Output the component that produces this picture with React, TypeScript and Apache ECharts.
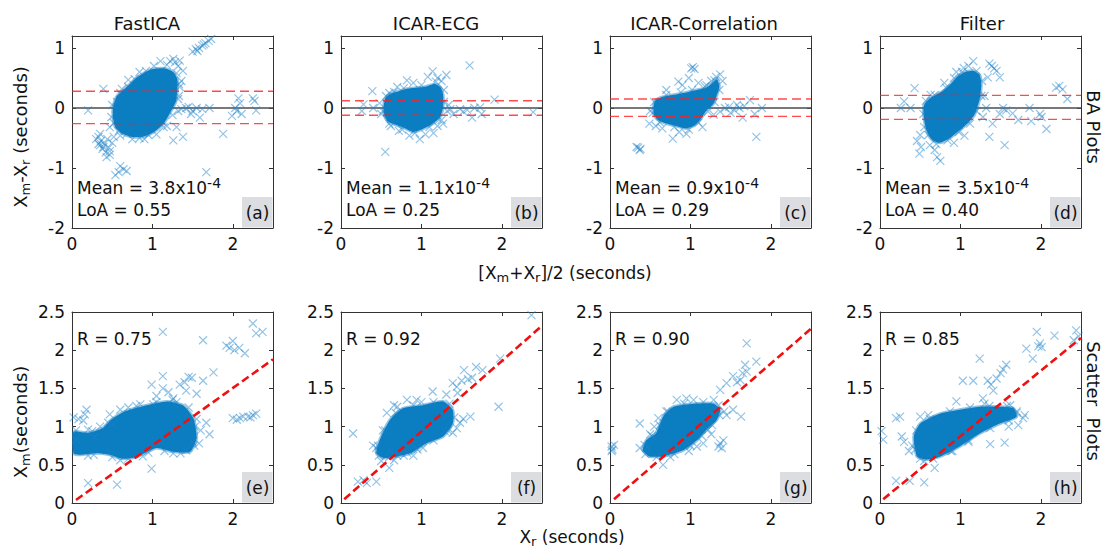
import React, { useEffect, useRef } from 'react';
import * as echarts from 'echarts';

const FONT = "'DejaVu Sans', 'Liberation Sans', Arial, sans-serif";

// ---------- data ----------
const methodNames = ['FastICA', 'ICAR-ECG', 'ICAR-Correlation', 'Filter'];
const baPanelLabels = ['(a)', '(b)', '(c)', '(d)'];
const scPanelLabels = ['(e)', '(f)', '(g)', '(h)'];
const baMeanMantissa = ['3.8', '1.1', '0.9', '3.5'];
const baMeanExponent = ['-4', '-4', '-4', '-4'];
const baLoALabels = ['0.55', '0.25', '0.29', '0.40'];
const baMeanValues = [0.00038, 0.00011, 0.00009, 0.00035];
const baUpperLoA = [0.28, 0.12, 0.15, 0.21];
const baLowerLoA = [-0.26, -0.12, -0.14, -0.19];
const scRLabels = ['0.75', '0.92', '0.90', '0.85'];
const scFitStart = [[0.05, 0.04], [0.04, 0.05], [0.05, 0.05], [0.04, 0.05]];
const scFitEnd = [[2.5, 1.88], [2.5, 2.32], [2.5, 2.28], [2.5, 2.16]];

const xAxisMin = 0, xAxisMax = 2.5, xAxisStep = 1;
const baYMin = -2, baYMax = 1.2, baYStep = 1;
const scYMin = 0, scYMax = 2.5, scYStep = 0.5;

// dense cores (outline of the saturated cloud)
const baCoreA = [[0.51,0.0],[0.55,0.18],[0.64,0.30],[0.72,0.40],[0.80,0.50],[0.89,0.58],[0.98,0.64],[1.06,0.66],[1.16,0.66],[1.26,0.60],[1.31,0.48],[1.31,0.30],[1.29,0.10],[1.22,-0.08],[1.14,-0.26],[1.02,-0.40],[0.88,-0.48],[0.74,-0.48],[0.62,-0.42],[0.54,-0.32],[0.51,-0.16]];
const baCoreB = [[0.53,0.01],[0.55,0.16],[0.62,0.24],[0.72,0.28],[0.82,0.32],[0.95,0.34],[1.06,0.36],[1.17,0.40],[1.24,0.34],[1.27,0.22],[1.27,0.02],[1.23,-0.16],[1.12,-0.28],[1.0,-0.36],[0.9,-0.40],[0.80,-0.34],[0.68,-0.28],[0.58,-0.22],[0.54,-0.12]];
const baCoreC = [[0.54,0.0],[0.56,0.12],[0.64,0.18],[0.79,0.22],[0.95,0.26],[1.08,0.30],[1.20,0.34],[1.28,0.42],[1.33,0.48],[1.36,0.36],[1.32,0.18],[1.28,0.06],[1.20,-0.04],[1.12,-0.2],[1.04,-0.3],[0.94,-0.34],[0.82,-0.3],[0.70,-0.26],[0.60,-0.2],[0.55,-0.12]];
const baCoreD = [[0.54,0.0],[0.56,0.08],[0.62,0.16],[0.70,0.22],[0.79,0.29],[0.88,0.4],[0.96,0.52],[1.06,0.6],[1.16,0.62],[1.24,0.55],[1.26,0.39],[1.24,0.15],[1.18,-0.1],[1.10,-0.24],[1.0,-0.36],[0.87,-0.5],[0.74,-0.58],[0.64,-0.52],[0.58,-0.38],[0.55,-0.2]];
const scCoreE = [[0.02,0.93],[0.2,0.92],[0.38,0.98],[0.5,1.1],[0.66,1.2],[0.93,1.28],[1.18,1.33],[1.38,1.28],[1.51,1.11],[1.55,0.85],[1.47,0.67],[1.26,0.67],[1.05,0.72],[0.8,0.6],[0.62,0.58],[0.47,0.63],[0.3,0.65],[0.1,0.63],[0.02,0.65]];
const scCoreF = [[0.44,0.65],[0.48,0.82],[0.61,1.09],[0.77,1.24],[1.02,1.28],[1.27,1.33],[1.39,1.22],[1.39,1.04],[1.27,0.87],[1.06,0.78],[0.86,0.65],[0.70,0.61],[0.53,0.59]];
const scCoreG = [[0.41,0.69],[0.45,0.82],[0.57,0.91],[0.66,1.13],[0.79,1.26],[1.04,1.3],[1.29,1.3],[1.37,1.22],[1.33,1.09],[1.20,0.96],[1.08,0.82],[0.91,0.69],[0.66,0.61],[0.49,0.61]];
const scCoreH = [[0.46,0.61],[0.42,0.87],[0.50,1.04],[0.75,1.17],[0.99,1.22],[1.24,1.26],[1.49,1.26],[1.66,1.24],[1.70,1.13],[1.49,1.04],[1.24,0.91],[0.99,0.74],[0.75,0.61],[0.58,0.57]];

// individually visible points (outliers and the fuzzy rim of each cloud)
const baPointsA = [[0.20,-0.04],[0.39,0.32],[0.33,-0.6],[0.43,-0.82],[0.35,-0.43],[0.58,-1.07],[0.68,-1.05],[0.60,-0.97],[0.54,-1.12],[0.64,-1.02],[1.67,-1.07],[1.88,-0.43],[1.50,0.94],[1.54,0.98],[1.58,1.0],[1.62,1.04],[1.66,1.08],[1.70,1.12],[1.56,0.95],[1.64,1.06],[1.73,1.15],[2.03,0.0],[2.07,0.16],[1.99,-0.13],[2.11,-0.1],[2.27,0.12],[2.29,-0.04],[2.25,0.16],[2.09,0.08],[2.05,-0.05],[1.42,0.0],[1.55,0.0],[1.59,-0.16],[1.71,0.0],[1.48,-0.1],[1.26,-0.54],[1.38,-0.48],[1.30,-0.32],[1.14,-0.32],[0.84,-0.5],[0.68,-0.43],[1.36,-0.02],[1.45,0.02],[1.5,-0.05],[1.62,-0.02],[1.34,0.79],[1.26,0.82],[1.38,0.62],[0.84,0.6],[0.70,0.47],[1.36,0.45],[1.18,0.72],[1.32,0.70],[1.28,0.76],[1.22,0.78],[1.10,0.78],[0.47,-0.32],[0.49,-0.15],[0.39,-0.65],[0.47,-0.72],[0.33,-0.48],[0.36,-0.55],[0.40,-0.6],[0.44,-0.52],[0.38,-0.68],[0.42,-0.74],[0.46,-0.66],[0.50,-0.58],[0.35,-0.62],[0.47,-0.78],[0.52,-0.48],[0.30,-0.52],[1.33,0.2],[1.34,0.35],[1.32,-0.05],[0.95,-0.45],[0.62,0.32],[0.56,0.1],[0.58,-0.38],[0.6,0.25],[0.7,0.35],[0.78,0.48],[0.92,0.62],[1.02,0.7],[1.3,0.58],[1.33,0.4],[1.32,0.15],[1.25,-0.12],[1.18,-0.3],[1.05,-0.44],[0.9,-0.52],[0.75,-0.52],[0.6,-0.46],[0.52,-0.25],[0.5,0.05]];
const baPointsB = [[0.55,-0.73],[1.60,0.71],[1.91,0.14],[0.26,-0.05],[0.28,0.06],[0.39,0.28],[2.39,-0.07],[1.73,0.01],[1.75,-0.1],[1.63,-0.16],[1.57,-0.03],[1.40,-0.1],[1.48,-0.02],[1.31,0.55],[1.14,0.61],[0.82,0.46],[0.98,-0.52],[1.27,-0.26],[1.15,-0.42],[0.40,0.0],[1.08,0.52],[1.20,0.5],[1.25,0.45],[0.9,0.42],[0.7,0.35],[0.6,0.25],[1.34,0.05],[1.32,-0.05],[1.36,-0.02],[0.62,-0.3],[0.72,-0.38],[0.85,-0.46],[1.05,-0.44],[1.2,-0.3],[0.5,-0.1],[0.48,0.08],[1.52,-0.06],[1.66,0.0],[0.56,0.2],[0.66,0.27],[0.78,0.33],[1.0,0.38],[1.18,0.44],[1.28,0.3],[1.28,0.1],[1.25,-0.2],[1.1,-0.32],[0.92,-0.42],[0.76,-0.36],[0.6,-0.26],[0.52,-0.05]];
const baPointsC = [[0.33,-0.65],[0.37,-0.70],[0.35,-0.66],[0.38,-0.68],[1.01,0.66],[1.05,0.65],[1.03,0.68],[1.82,-0.48],[1.74,0.13],[1.61,0.0],[1.67,0.03],[1.65,-0.16],[1.89,0.0],[1.80,-0.1],[1.37,-0.06],[1.43,0.0],[1.29,-0.11],[0.85,0.44],[0.98,0.5],[1.37,0.56],[1.26,0.45],[1.32,0.52],[0.78,-0.51],[0.95,-0.43],[0.57,-0.3],[0.49,-0.26],[1.48,0.02],[1.55,-0.04],[1.58,0.05],[1.5,-0.08],[0.9,0.38],[1.1,0.42],[0.7,0.3],[1.15,-0.32],[0.86,-0.4],[0.65,-0.34],[0.5,-0.05],[1.2,0.38],[1.4,0.45],[0.55,0.1],[0.7,0.22],[0.88,0.26],[1.02,0.3],[1.18,0.36],[1.3,0.46],[1.36,0.3],[1.3,0.1],[1.22,-0.06],[1.1,-0.24],[0.98,-0.36],[0.8,-0.32],[0.62,-0.24],[0.53,-0.08]];
const baPointsD = [[1.16,0.78],[1.04,0.67],[1.39,0.70],[1.45,0.62],[1.49,0.51],[1.34,0.51],[1.42,0.66],[1.36,0.74],[0.43,0.33],[0.30,0.11],[0.26,0.0],[0.38,0.0],[0.63,0.22],[0.51,-0.65],[0.49,-0.76],[0.71,-0.82],[0.75,-0.88],[0.55,-0.32],[0.5,-0.45],[0.62,-0.62],[0.68,-0.7],[1.55,-0.62],[1.36,-0.48],[1.40,-0.26],[1.49,-0.1],[1.57,-0.04],[1.65,-0.09],[1.72,-0.2],[1.53,0.0],[1.32,0.0],[1.86,0.0],[1.88,-0.22],[1.99,-0.1],[2.01,-0.15],[2.07,-0.35],[2.19,0.34],[2.27,0.31],[2.33,0.15],[2.23,0.37],[1.28,-0.15],[1.3,0.2],[1.1,0.7],[0.95,0.6],[0.8,0.42],[0.46,-0.55],[0.92,-0.58],[1.05,-0.46],[0.57,0.12],[0.68,0.22],[0.82,0.34],[0.92,0.5],[1.02,0.6],[1.2,0.62],[1.27,0.45],[1.26,0.2],[1.2,-0.05],[1.12,-0.26],[0.98,-0.4],[0.84,-0.54],[0.7,-0.6],[0.6,-0.45],[0.54,-0.1]];
const scPointsE = [[1.13,2.24],[1.63,2.13],[1.92,2.06],[2.0,2.12],[2.08,2.03],[2.15,1.96],[2.02,2.0],[1.96,2.03],[2.25,2.35],[2.29,2.22],[2.37,2.24],[1.76,1.71],[1.63,1.6],[1.49,1.64],[1.13,1.66],[0.99,1.55],[1.13,1.5],[1.34,1.55],[1.26,1.37],[1.42,1.47],[1.55,1.43],[1.45,1.65],[1.40,1.58],[1.2,1.45],[1.05,1.4],[2.0,1.11],[2.13,1.13],[2.25,1.15],[2.29,1.17],[2.09,1.11],[2.19,1.13],[2.05,1.09],[2.22,1.12],[1.67,1.05],[1.71,0.9],[1.58,0.78],[1.42,0.69],[1.6,0.95],[1.55,1.1],[1.5,0.8],[0.99,0.45],[0.20,0.26],[0.56,0.24],[0.02,1.12],[0.16,1.16],[0.18,1.22],[0.14,1.08],[0.08,1.1],[0.2,0.96],[0.47,1.16],[0.51,1.03],[0.35,1.0],[0.28,0.86],[1.26,0.65],[0.88,0.61],[0.44,0.69],[0.27,0.63],[0.05,0.83],[0.6,0.56],[0.7,0.58],[0.85,1.29],[1.01,1.29],[0.6,1.22],[0.7,1.25],[1.3,1.32],[0.05,0.95],[0.25,0.94],[0.45,1.05],[0.8,1.27],[1.05,1.32],[1.25,1.35],[1.45,1.25],[1.53,1.0],[1.52,0.75],[1.35,0.65],[1.15,0.68],[0.95,0.66],[0.5,0.6],[0.2,0.62]];
const scPointsF = [[2.37,2.46],[1.98,1.89],[1.96,1.26],[0.15,0.91],[0.21,0.28],[0.32,0.26],[0.28,0.3],[0.44,0.28],[0.6,0.46],[1.53,1.74],[1.68,1.78],[1.76,1.74],[1.63,1.64],[1.44,1.52],[1.39,1.57],[1.31,1.42],[1.5,1.6],[1.58,1.62],[1.45,1.44],[1.61,1.13],[1.44,0.98],[1.48,1.05],[1.39,0.92],[1.29,0.94],[1.52,1.1],[1.02,0.72],[0.82,0.66],[0.70,0.62],[0.61,0.68],[0.44,0.72],[0.5,0.55],[0.66,0.56],[0.9,0.62],[0.70,1.26],[0.82,1.35],[0.94,1.35],[1.14,1.46],[0.57,1.18],[0.66,1.28],[1.0,1.32],[0.52,0.95],[0.4,0.75],[0.46,0.75],[0.55,0.95],[0.68,1.18],[0.9,1.28],[1.15,1.32],[1.35,1.3],[1.41,1.12],[1.33,0.95],[1.15,0.82],[0.95,0.7],[0.78,0.62],[0.6,0.6],[0.47,0.62]];
const scPointsG = [[1.70,2.09],[1.82,1.85],[1.68,1.81],[1.70,1.72],[1.53,1.66],[1.62,1.61],[1.45,1.57],[1.37,1.48],[1.29,1.35],[1.58,1.58],[1.65,1.7],[1.53,1.22],[1.63,1.13],[1.45,1.15],[1.42,1.2],[1.37,0.78],[1.41,0.82],[1.35,0.74],[1.39,0.72],[1.22,0.96],[1.16,0.78],[1.08,0.74],[0.66,0.5],[0.02,0.74],[0.03,0.70],[0.05,0.76],[0.02,0.68],[0.37,0.72],[0.47,0.74],[0.60,1.11],[0.37,1.04],[0.83,1.35],[1.04,1.35],[0.95,1.37],[0.5,0.9],[0.55,1.0],[0.75,0.6],[0.98,0.68],[1.26,0.9],[0.7,1.2],[0.43,0.76],[0.52,0.88],[0.62,1.02],[0.72,1.2],[0.92,1.3],[1.16,1.32],[1.35,1.28],[1.36,1.15],[1.27,1.02],[1.14,0.88],[1.0,0.75],[0.8,0.64],[0.58,0.6],[0.44,0.64]];
const scPointsH = [[1.24,1.89],[1.82,2.02],[1.95,2.24],[1.99,2.09],[2.01,2.04],[2.17,2.19],[1.90,1.89],[1.97,2.05],[2.44,2.26],[2.47,2.18],[2.41,2.13],[1.03,1.6],[1.16,1.6],[1.34,1.6],[1.45,1.63],[1.53,1.75],[1.57,1.81],[1.41,1.47],[1.28,1.37],[0.95,1.33],[1.5,1.7],[1.38,1.55],[1.70,1.2],[1.78,1.11],[1.72,1.02],[1.55,0.79],[1.37,0.77],[1.6,1.0],[1.8,1.15],[0.02,0.94],[0.04,0.83],[0.2,1.11],[0.25,1.13],[0.27,0.87],[0.36,0.68],[0.3,0.8],[0.2,0.29],[0.37,0.29],[0.55,0.27],[0.68,0.46],[0.5,1.13],[0.75,1.09],[0.6,1.15],[0.4,0.75],[0.55,0.55],[0.9,0.68],[1.1,0.8],[1.3,1.3],[1.62,1.28],[0.44,0.7],[0.45,0.95],[0.62,1.1],[0.87,1.2],[1.12,1.25],[1.36,1.27],[1.58,1.27],[1.7,1.18],[1.6,1.08],[1.37,0.98],[1.1,0.82],[0.88,0.68],[0.66,0.58],[0.5,0.58]];

const baCores = [baCoreA, baCoreB, baCoreC, baCoreD];
const scCores = [scCoreE, scCoreF, scCoreG, scCoreH];
const baPoints = [baPointsA, baPointsB, baPointsC, baPointsD];
const scPoints = [scPointsE, scPointsF, scPointsG, scPointsH];

// ---------- layout ----------
const GRID_LEFT = [72, 341, 610, 880];
const GRID_W = 201;
const ROW_TOP = [36, 312];
const ROW_H = [192, 191];
const TITLE_X = [147, 436, 704, 982];

const AXIS_COLOR = '#333';
const TEXT_COLOR = '#111';
const CORE_FILL = '#0b7dc1';
const CROSS_SYMBOL = 'path://M0,0L10,10M10,0L0,10';

function buildOption() {
  const grid: any[] = [];
  const xAxis: any[] = [];
  const yAxis: any[] = [];
  const series: any[] = [];
  const graphic: any[] = [];

  const lineStyle = { color: AXIS_COLOR, width: 1 };
  const label = (show: boolean, margin: number, showMax: boolean) => ({
    show, margin, fontSize: 17, fontFamily: FONT, color: TEXT_COLOR, showMaxLabel: showMax,
  });

  for (let r = 0; r < 2; r++) {
    for (let c = 0; c < 4; c++) {
      const gi = r * 4 + c;
      const left = GRID_LEFT[c];
      const top = ROW_TOP[r];
      const h = ROW_H[r];
      grid.push({ left, top, width: GRID_W, height: h, containLabel: false });
      const yMin = r === 0 ? baYMin : scYMin;
      const yMax = r === 0 ? baYMax : scYMax;
      const yStep = r === 0 ? baYStep : scYStep;
      const xBase = {
        type: 'value', gridIndex: gi, min: xAxisMin, max: xAxisMax, interval: xAxisStep,
        axisLine: { show: true, onZero: false, lineStyle },
        axisTick: { show: true, inside: true, length: 4, lineStyle },
        splitLine: { show: false },
      };
      xAxis.push({ ...xBase, position: 'bottom', axisLabel: label(true, 7, false) });
      xAxis.push({ ...xBase, position: 'top', axisLabel: { show: false } });
      const yBase = {
        type: 'value', gridIndex: gi, min: yMin, max: yMax, interval: yStep,
        axisLine: { show: true, onZero: false, lineStyle },
        axisTick: { show: true, inside: true, length: 4, lineStyle },
        splitLine: { show: false },
      };
      yAxis.push({ ...yBase, position: 'left', axisLabel: label(true, 7, r === 1) });
      yAxis.push({ ...yBase, position: 'right', axisLabel: { show: false } });

      const xi = gi * 2;
      const yi = gi * 2;
      const core = r === 0 ? baCores[c] : scCores[c];
      const pts = r === 0 ? baPoints[c] : scPoints[c];

      if (r === 0) {
        series.push({
          type: 'line', xAxisIndex: xi, yAxisIndex: yi, silent: true, z: 1,
          symbol: 'none', data: [[xAxisMin, baMeanValues[c]], [xAxisMax, baMeanValues[c]]],
          lineStyle: { color: '#4d4d4d', width: 1.3 },
        });
      }
      series.push({
        type: 'custom', xAxisIndex: xi, yAxisIndex: yi, silent: true, z: 2, clip: true,
        data: [[core[0][0], core[0][1]]],
        renderItem: (_p: any, api: any) => ({
          type: 'polygon',
          shape: { points: core.map((p) => api.coord(p)), smooth: 0.2 },
          style: { fill: CORE_FILL, stroke: 'rgba(11,125,193,0.45)', lineWidth: 3 },
        }),
      });
      series.push({
        type: 'scatter', xAxisIndex: xi, yAxisIndex: yi, silent: true, z: 3,
        symbol: CROSS_SYMBOL, symbolSize: 8, data: pts,
        itemStyle: { color: 'rgba(0,0,0,0)', borderColor: 'rgba(30,130,200,0.6)', borderWidth: 1.2 },
      });
      if (r === 0) {
        [baUpperLoA[c], baLowerLoA[c]].forEach((v) => {
          series.push({
            type: 'line', xAxisIndex: xi, yAxisIndex: yi, silent: true, z: 4,
            symbol: 'none', data: [[xAxisMin, v], [xAxisMax, v]],
            lineStyle: { color: 'rgba(255,30,30,0.8)', width: 1.4, type: [9, 5] },
          });
        });
      } else {
        series.push({
          type: 'line', xAxisIndex: xi, yAxisIndex: yi, silent: true, z: 4,
          symbol: 'none', data: [scFitStart[c], scFitEnd[c]],
          lineStyle: { color: '#f01010', width: 2.6, type: [8, 4] },
        });
      }

      // panel label box
      const bottom = top + h;
      const right = left + GRID_W;
      graphic.push({
        type: 'rect', silent: true, z: 1,
        shape: { x: right - 31, y: bottom - 31, width: 30.5, height: 30.5 },
        style: { fill: '#dcdde1' },
      });
      graphic.push({
        type: 'text', silent: true, z: 5, x: right - 15.5, y: bottom - 15.5,
        style: {
          text: r === 0 ? baPanelLabels[c] : scPanelLabels[c],
          fontSize: 17, fontFamily: FONT, fill: TEXT_COLOR, align: 'center', verticalAlign: 'middle',
        },
      });
      if (r === 0) {
        graphic.push({
          type: 'text', silent: true, z: 5, x: left + 5, y: bottom - 40,
          style: {
            text: `{n|Mean = ${baMeanMantissa[c]}x10}{sup|${baMeanExponent[c]}}`,
            align: 'left', verticalAlign: 'middle', fill: TEXT_COLOR,
            rich: {
              n: { fontSize: 17, fontFamily: FONT, fill: TEXT_COLOR, lineHeight: 25, verticalAlign: 'middle' },
              sup: { fontSize: 14, fontFamily: FONT, fill: TEXT_COLOR, lineHeight: 14, verticalAlign: 'top' },
            },
          },
        });
        graphic.push({
          type: 'text', silent: true, z: 5, x: left + 5, y: bottom - 18,
          style: {
            text: `LoA = ${baLoALabels[c]}`, fontSize: 17, fontFamily: FONT, fill: TEXT_COLOR,
            align: 'left', verticalAlign: 'middle',
          },
        });
        graphic.push({
          type: 'text', silent: true, z: 5, x: TITLE_X[c], y: 23,
          style: {
            text: methodNames[c], fontSize: 18, fontFamily: FONT, fill: TEXT_COLOR,
            align: 'center', verticalAlign: 'middle',
          },
        });
      } else {
        graphic.push({
          type: 'text', silent: true, z: 5, x: left + 5, y: top + 27,
          style: {
            text: `R = ${scRLabels[c]}`, fontSize: 17, fontFamily: FONT, fill: TEXT_COLOR,
            align: 'left', verticalAlign: 'middle',
          },
        });
      }
    }
  }

  const subRich = {
    n: { fontSize: 17, fontFamily: FONT, fill: TEXT_COLOR, lineHeight: 22, verticalAlign: 'middle' },
    sub: { fontSize: 13, fontFamily: FONT, fill: TEXT_COLOR, lineHeight: 10, verticalAlign: 'bottom' },
  };
  const sideRich = {
    n: { fontSize: 18, fontFamily: FONT, fill: TEXT_COLOR, lineHeight: 24, verticalAlign: 'middle' },
    sub: { fontSize: 13, fontFamily: FONT, fill: TEXT_COLOR, lineHeight: 11, verticalAlign: 'bottom' },
  };
  graphic.push({
    type: 'text', silent: true, x: 20, y: 137, rotation: Math.PI / 2,
    style: { text: '{n|X}{sub|m}{n|-X}{sub|r}{n| (seconds)}', align: 'center', verticalAlign: 'middle', rich: sideRich },
  });
  graphic.push({
    type: 'text', silent: true, x: 20, y: 422, rotation: Math.PI / 2,
    style: { text: '{n|X}{sub|m}{n|(seconds)}', align: 'center', verticalAlign: 'middle', rich: sideRich },
  });
  graphic.push({
    type: 'text', silent: true, x: 565, y: 273,
    style: { text: '{n|[X}{sub|m}{n|+X}{sub|r}{n|]/2 (seconds)}', align: 'center', verticalAlign: 'middle', rich: subRich },
  });
  graphic.push({
    type: 'text', silent: true, x: 572, y: 537,
    style: { text: '{n|X}{sub|r}{n| (seconds)}', align: 'center', verticalAlign: 'middle', rich: subRich },
  });
  graphic.push({
    type: 'text', silent: true, x: 1093, y: 127, rotation: -Math.PI / 2,
    style: { text: 'BA Plots', fontSize: 18, fontFamily: FONT, fill: TEXT_COLOR, align: 'center', verticalAlign: 'middle' },
  });
  graphic.push({
    type: 'text', silent: true, x: 1093, y: 401, rotation: -Math.PI / 2,
    style: { text: 'Scatter  Plots', fontSize: 18, fontFamily: FONT, fill: TEXT_COLOR, align: 'center', verticalAlign: 'middle' },
  });

  return {
    animation: false,
    backgroundColor: '#ffffff',
    grid, xAxis, yAxis, series, graphic,
  };
}

export default function App() {
  const ref = useRef<HTMLDivElement>(null);
  useEffect(() => {
    if (!ref.current) return;
    const chart = echarts.init(ref.current, undefined, { renderer: 'svg' });
    chart.setOption(buildOption() as any);
    return () => chart.dispose();
  }, []);
  return (
    <div
      ref={ref}
      style={{ position: 'absolute', left: 0, top: 0, width: 1109, height: 551, background: '#fff' }}
    />
  );
}
